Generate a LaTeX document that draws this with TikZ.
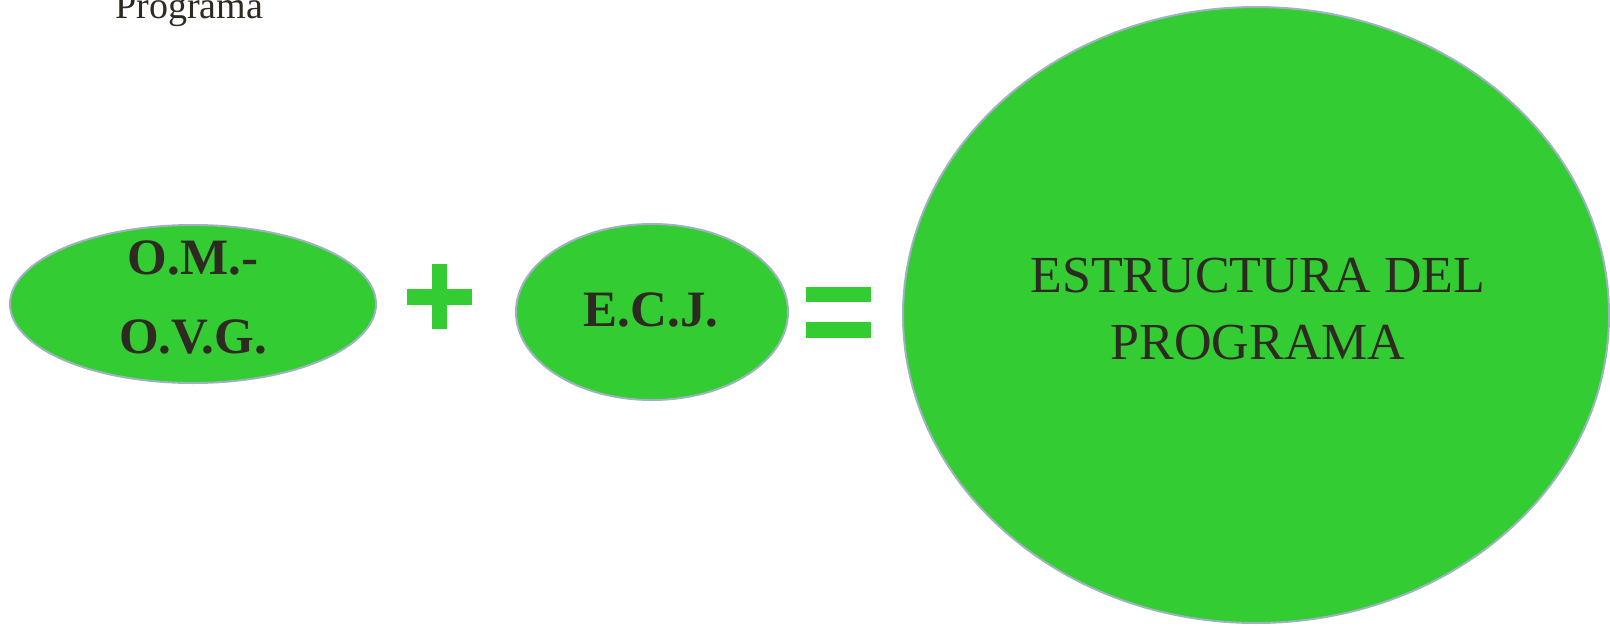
\documentclass[tikz,border=0pt]{standalone}
\usepackage{fontspec}
\setmainfont{Liberation Serif}
\usetikzlibrary{shapes.geometric}
\definecolor{gfill}{HTML}{33CC33}
\definecolor{gline}{HTML}{9FB3BF}
\definecolor{ink}{HTML}{2E2A22}
\tikzset{
  blob/.style={ellipse, fill=gfill, draw=gline, line width=1.5pt, inner sep=0pt},
  boldtxt/.style={anchor=base, inner sep=0pt, text=ink, font=\fontsize{38.25}{40}\selectfont\bfseries},
  bigtxt/.style={anchor=base, inner sep=0pt, text=ink, font=\fontsize{39}{41}\selectfont},
  toptxt/.style={anchor=base west, inner sep=0pt, text=ink, font=\fontsize{28.5}{30}\selectfont},
  sign/.style={fill=gfill}
}
\begin{document}
\begin{tikzpicture}[x=0.75pt, y=-0.75pt]
\useasboundingbox (0,0) rectangle (1610,625);
% ellipses
\node[blob, minimum width=274.5pt, minimum height=118.5pt] (e1) at (193,304) {};
\node[blob, minimum width=204pt, minimum height=132pt] (e2) at (652,312) {};
\node[blob, minimum width=529.5pt, minimum height=462pt] (e3) at (1256,315) {};
% texts
\node[toptxt] (prog) at (115,18) {Programa};
\node[boldtxt] (t1a) at (193,274) {O.M.-};
\node[boldtxt] (t1b) at (193,353) {O.V.G.};
\node[boldtxt] (t2) at (651,326) {E.C.J.};
\node[bigtxt] (t3a) at (1258,292) {ESTRUCTURA DEL};
\node[bigtxt] (t3b) at (1258,359.5) {PROGRAMA};
% plus sign
\fill[sign] (431.7,264.3) rectangle (447.3,329.3);
\fill[sign] (406.7,289.3) rectangle (472.3,305);
% equals sign
\fill[sign] (806,286.7) rectangle (871,302.3);
\fill[sign] (806,322.3) rectangle (871,337.7);
\end{tikzpicture}
\end{document}
